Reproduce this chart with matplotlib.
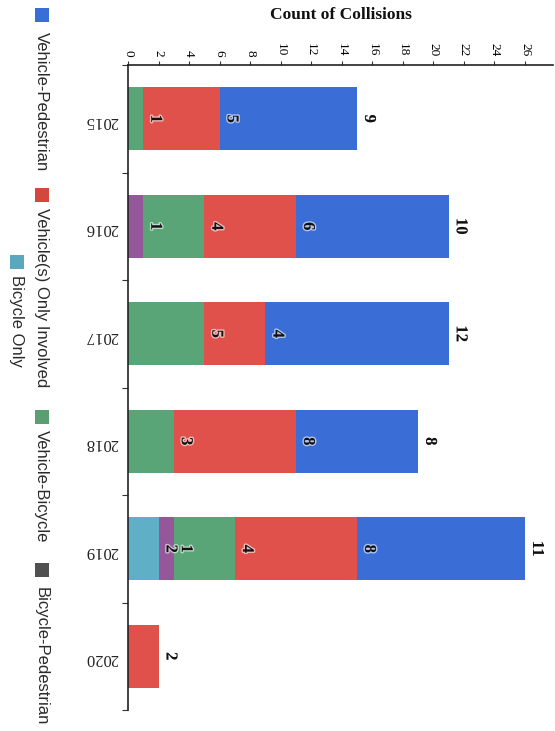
import matplotlib
matplotlib.use('Agg')
import matplotlib.pyplot as plt
import matplotlib.patheffects as pe
from matplotlib.patches import Rectangle
import numpy as np

# Collision counts per year (stack order from the axis outwards)
years = ['2015', '2016', '2017', '2018', '2019', '2020']
bicycle_only = [0, 0, 0, 0, 2, 0]
bicycle_pedestrian = [0, 1, 0, 0, 1, 0]
vehicle_bicycle = [1, 4, 5, 3, 4, 0]
vehicle_only = [5, 6, 4, 8, 8, 2]
vehicle_pedestrian = [9, 10, 12, 8, 11, 0]
count_ticks = list(range(0, 27, 2))

series = [
    ('Bicycle Only', bicycle_only, '#5fb0c6'),
    ('Bicycle-Pedestrian', bicycle_pedestrian, '#93579a'),
    ('Vehicle-Bicycle', vehicle_bicycle, '#5aa577'),
    ('Vehicle(s) Only Involved', vehicle_only, '#e0514b'),
    ('Vehicle-Pedestrian', vehicle_pedestrian, '#3a6ed6'),
]

W, H = 555, 731
SERIF = 'Liberation Serif'
SANS = 'Liberation Sans'

fig = plt.figure(figsize=(W / 100, H / 100), dpi=100)
fig.patch.set_facecolor('white')
ax = fig.add_axes([128 / W, 1 - 710 / H, 424.5 / W, 645 / H])

pos = np.arange(len(years))
left = np.zeros(len(years))
for name, vals, color in series:
    vals = np.array(vals, dtype=float)
    ax.barh(pos, vals, left=left, height=0.586, color=color, edgecolor='none')
    for i, v in enumerate(vals):
        if v > 0:
            ax.annotate(str(int(v)), (left[i] + v, pos[i]), xytext=(12, 0),
                        textcoords='offset pixels', rotation=-90,
                        ha='center', va='center', fontsize=12,
                        fontweight='bold', family=SERIF, color='#111111',
                        path_effects=[pe.withStroke(linewidth=2, foreground=(1, 1, 1, 0.6))])
    left += vals

ax.set_xlim(0, 27.8)
ax.set_ylim(5.5, -0.5)

# value axis along the top
ax.xaxis.tick_top()
ax.set_xticks(count_ticks)
ax.set_xticklabels([str(t) for t in count_ticks], rotation=-90, family=SERIF, fontsize=9.5)
ax.tick_params(axis='x', direction='out', length=3, width=0.8, pad=3, color='#333333')

# categories on the left, upside down
ax.set_yticks(pos)
ax.set_yticklabels(years, rotation=180, family=SERIF, fontsize=12, color='#222222')
ax.set_yticks(np.arange(-0.5, len(years), 1.0), minor=True)
ax.tick_params(axis='y', which='major', length=0, pad=7)
ax.tick_params(axis='y', which='minor', direction='out', length=4, width=0.8, color='#333333')

for side in ['right', 'bottom']:
    ax.spines[side].set_visible(False)
for side in ['top', 'left']:
    ax.spines[side].set_linewidth(1.2)
    ax.spines[side].set_color('#222222')

fig.text(341 / W, 1 - 15 / H, 'Count of Collisions', ha='center', va='center',
         fontsize=12.5, fontweight='bold', family=SERIF, color='#111111')

# legend, drawn rotated like the rest of the scan
legend_items = [
    ('Vehicle-Pedestrian', '#3a6ed6', 35, 8, 41, 32),
    ('Vehicle(s) Only Involved', '#d4473f', 35, 188, 41, 208),
    ('Vehicle-Bicycle', '#5a9e72', 35, 410, 41, 430),
    ('Bicycle-Pedestrian', '#505050', 35, 563, 41, 587),
    ('Bicycle Only', '#5aa8bd', 10, 255, 16, 275),
]
for label, color, sx, sy, tx, ty in legend_items:
    fig.add_artist(Rectangle((sx / W, 1 - (sy + 14) / H), 14 / W, 14 / H,
                             transform=fig.transFigure, facecolor=color, edgecolor='none'))
    fig.text(tx / W, 1 - ty / H, label, rotation=-90, ha='center', va='top',
             fontsize=12, family=SANS, color='#2a2a2a')

fig.savefig('out.png', dpi=100)
